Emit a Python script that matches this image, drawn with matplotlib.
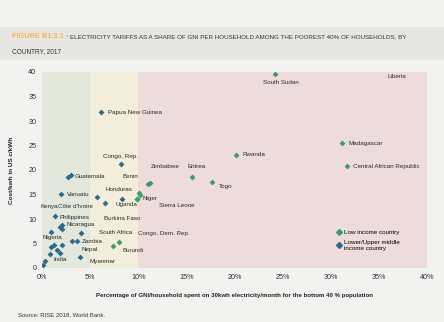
import matplotlib
matplotlib.use('Agg')
import matplotlib.pyplot as plt
from matplotlib.lines import Line2D
from matplotlib.patches import Rectangle

plt.rcParams['font.family'] = ['Liberation Sans', 'DejaVu Sans']

# low income countries (green)
low_names = ['South Sudan', 'Benin', 'Zimbabwe', 'Eritrea', 'Togo', 'Rwanda', 'Madagascar',
             'Central African Republic', 'Niger', 'Sierra Leone', 'Uganda', 'Burkina Faso',
             'Burundi', 'Congo, Dem. Rep.']
low_x = [24.2, 11.0, 11.2, 15.6, 17.7, 20.2, 31.2, 31.7, 10.1, 10.2, 9.9, 9.9, 8.0, 7.4]
low_y = [39.6, 17.1, 17.4, 18.6, 17.6, 23.1, 25.5, 20.8, 15.3, 15.0, 14.1, 14.0, 5.3, 4.5]

# lower/upper middle income countries (blue)
mid_names = ['Papua New Guinea', 'Congo, Rep.', 'Guatemala', '', 'Vanuatu', 'Kenya', 'Honduras',
             "Côte d'Ivoire", 'Philippines', 'Nicaragua', '', '', 'Nigeria', 'Zambia', '',
             'South Africa', 'Myanmar', 'India', '', '', '', '', '', '', '']
mid_x = [6.1, 8.2, 3.0, 2.7, 2.0, 5.7, 8.3, 6.5, 1.4, 2.1, 1.9, 2.1, 0.9, 3.6, 3.1,
         4.1, 3.9, 0.8, 0.1, 0.3, 0.9, 1.2, 1.6, 2.1, 1.9]
mid_y = [31.8, 21.2, 19.0, 18.6, 15.1, 14.5, 14.1, 13.3, 10.6, 8.8, 8.4, 8.0, 7.3, 5.5, 5.5,
         7.1, 2.2, 2.9, 0.6, 1.5, 4.2, 4.6, 3.6, 4.6, 3.0]

# Liberia sits above the axis limit, only its label shows
lib_x, lib_y = 36.9, 44.0

green = '#3f9a6c'
blue = '#2c6b8c'

# label offsets in pixels (dx, dy) and horizontal alignment
offsets = {
    'South Sudan': (-12, -9, 'left'), 'Benin': (-18, 8, 'center'), 'Zimbabwe': (15, 16, 'center'),
    'Eritrea': (4, 10, 'center'), 'Togo': (6, -5, 'left'), 'Rwanda': (6, 0, 'left'),
    'Madagascar': (6, 0, 'left'), 'Central African Republic': (6, 0, 'left'),
    'Niger': (3, -5, 'left'), 'Sierra Leone': (19, -11, 'left'), 'Uganda': (-11, -6, 'center'),
    'Burkina Faso': (-15, -19, 'center'),
    'Burundi': (3, -8, 'left'), 'Congo, Dem. Rep.': (25, 12, 'left'),
    'Papua New Guinea': (7, 0, 'left'), 'Congo, Rep.': (0, 8, 'center'), 'Guatemala': (4, -2, 'left'),
    'Vanuatu': (6, 0, 'left'), 'Kenya': (-48, -10, 'center'), 'Honduras': (-3, 9, 'center'),
    "Côte d'Ivoire": (-29, -4, 'center'), 'Philippines': (4, -1, 'left'), 'Nicaragua': (4, 0, 'left'),
    'Nigeria': (2, -5, 'center'), 'Zambia': (5, 0, 'left'),
    'South Africa': (18, 1, 'left'),
    'Myanmar': (10, -4, 'left'), 'India': (10, -6, 'center'),
}

fig = plt.figure(figsize=(4.44, 3.22), dpi=100)
fig.patch.set_facecolor('#f2f2f0')
fig.patches.append(Rectangle((0, 1 - 60 / 322), 1, 33 / 322, transform=fig.transFigure,
                             facecolor='#e6e6e3', edgecolor='none', zorder=0))

# title, orange prefix then dark text right after it
pre = fig.text(0.027, 1 - 37 / 322, 'FIGURE B1.3.1 \u2022 ', color='#f2b64a', fontsize=5.3,
               fontweight='bold', va='center')
fig.canvas.draw()
bb = pre.get_window_extent().transformed(fig.transFigure.inverted())
fig.text(bb.x1, 1 - 37 / 322,
         'ELECTRICITY TARIFFS AS A SHARE OF GNI PER HOUSEHOLD AMONG THE POOREST 40% OF HOUSEHOLDS, BY',
         color='#333333', fontsize=4.5, va='center')
fig.text(0.027, 1 - 52 / 322, 'COUNTRY, 2017', color='#333333', fontsize=4.7, va='center')

ax = fig.add_axes([42 / 444, 1 - 268 / 322, 385 / 444, 196 / 322])
ax.set_facecolor('#f2f2f0')
ax.axvspan(0, 5, color='#e3e7dc', lw=0)
ax.axvspan(5, 10, color='#f3eedb', lw=0)
ax.axvspan(10, 40, color='#eedcdd', lw=0)

ax.scatter(low_x, low_y, marker='D', s=9, color=green, zorder=3, lw=0)
ax.scatter(mid_x, mid_y, marker='D', s=9, color=blue, zorder=3, lw=0)

for names, xs, ys in ((low_names, low_x, low_y), (mid_names, mid_x, mid_y)):
    for n, x, y in zip(names, xs, ys):
        if n and n in offsets:
            dx, dy, ha = offsets[n]
            ax.annotate(n, (x, y), xytext=(dx, dy), textcoords='offset pixels',
                        fontsize=4.5, color='#2a2a2a', ha=ha, va='center')
# Nepal label shares the point used for South Africa
ax.annotate('Nepal', (mid_x[15], mid_y[15]), xytext=(0, -16), textcoords='offset pixels',
            fontsize=4.5, color='#2a2a2a', ha='left', va='center')
ax.annotate('Liberia', (lib_x, lib_y), xytext=(0, -24), textcoords='offset pixels',
            fontsize=4.5, color='#2a2a2a', ha='center', va='center', annotation_clip=False)

ax.set_xlim(0, 40)
ax.set_ylim(0, 40)
ax.set_xticks(range(0, 41, 5))
ax.set_xticklabels([f'{t}%' for t in range(0, 41, 5)])
ax.set_yticks(range(0, 41, 5))
ax.tick_params(length=0, labelsize=5.2, colors='#333333', pad=4)
for s in ax.spines.values():
    s.set_visible(False)

ax.set_ylabel('Cost/kwh in US c/kWh', fontsize=4.6, fontweight='bold', color='#222222', labelpad=10)
ax.set_xlabel('Percentage of GNI/household spent on 30kwh electricity/month for the bottom 40 % population',
              fontsize=4.4, fontweight='bold', color='#222222', labelpad=9)

handles = [Line2D([], [], marker='D', ls='', color=green, markersize=3),
           Line2D([], [], marker='D', ls='', color=blue, markersize=3)]
ax.legend(handles, ['Low income country', 'Lower/Upper middle\nincome country'],
          loc='upper left', bbox_to_anchor=(0.755, 0.21), frameon=False, fontsize=4.5,
          handletextpad=0.3, labelspacing=0.7, borderpad=0, handlelength=1)

fig.text(0.04, 1 - 315 / 322, 'Source: RISE 2018, World Bank.', fontsize=4.3, color='#333333',
         va='center')

fig.savefig('out.png', dpi=100, facecolor=fig.get_facecolor())
